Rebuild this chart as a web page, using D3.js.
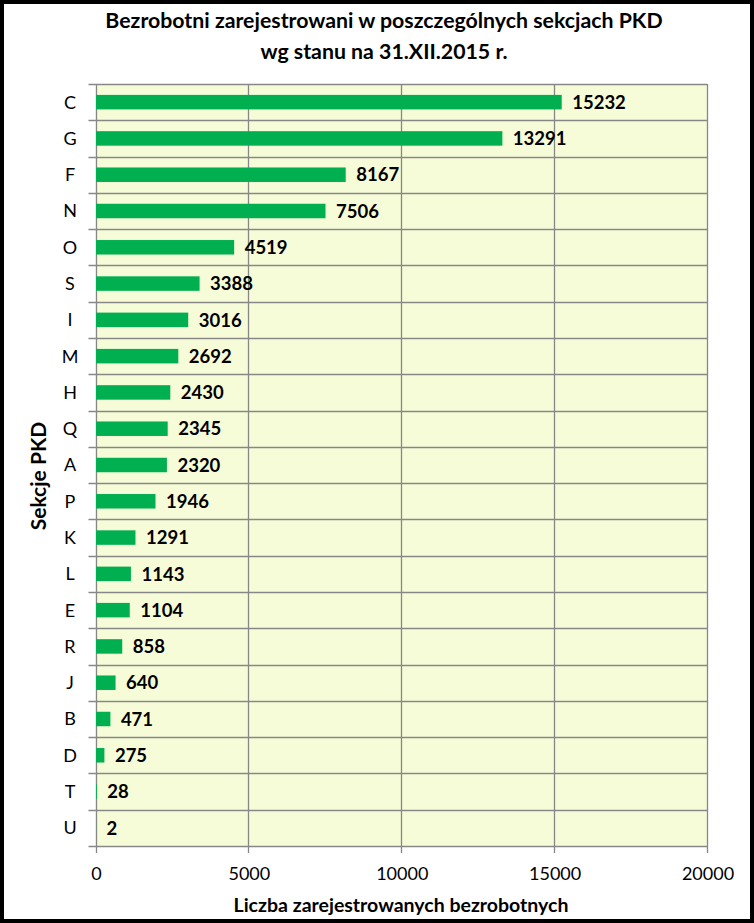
<!DOCTYPE html>
<html>
<head>
<meta charset="utf-8">
<script src="https://cdn.jsdelivr.net/npm/d3@7/dist/d3.min.js"></script>
<style>
  html, body { margin: 0; padding: 0; background: #fff; }
  svg { display: block; }
  text { font-family: Lato, "Open Sans", sans-serif; fill: #000; }
</style>
</head>
<body>
<svg id="chart" width="754" height="923"></svg>
<script>
const categories = ["C","G","F","N","O","S","I","M","H","Q","A","P","K","L","E","R","J","B","D","T","U"];
const values = [15232,13291,8167,7506,4519,3388,3016,2692,2430,2345,2320,1946,1291,1143,1104,858,640,471,275,28,2];
const xTicks = [0,5000,10000,15000,20000];
const titleLines = ["Bezrobotni zarejestrowani w poszczególnych sekcjach PKD", "wg stanu na 31.XII.2015 r."];
const xTitle = "Liczba zarejestrowanych bezrobotnych";
const yTitle = "Sekcje PKD";

const W = 754, H = 923;
const plot = {left: 95.5, right: 707, top: 84, bottom: 846};
const svg = d3.select("#chart");

// outer border
svg.append("rect").attr("x", 2).attr("y", 2).attr("width", W - 4).attr("height", H - 4)
  .attr("fill", "#fff").attr("stroke", "#000").attr("stroke-width", 4);

const x = d3.scaleLinear().domain([0, 20000]).range([plot.left, plot.right]);
const y = d3.scaleBand().domain(categories).range([plot.top, plot.bottom]).paddingInner(0).paddingOuter(0);

// plot background
svg.append("rect").attr("x", plot.left).attr("y", plot.top)
  .attr("width", plot.right - plot.left).attr("height", plot.bottom - plot.top)
  .attr("fill", "#F7FCD8");

const gridColor = "#878787";
// vertical gridlines
svg.append("g").selectAll("line").data(xTicks).join("line")
  .attr("x1", d => Math.round(x(d)) + 0.5).attr("x2", d => Math.round(x(d)) + 0.5)
  .attr("y1", plot.top).attr("y2", plot.bottom + 7)
  .attr("stroke", gridColor).attr("stroke-width", 1.3);

// horizontal separators between categories (with ticks extending left)
const bounds = categories.map(c => y(c)).concat([plot.bottom]);
svg.append("g").selectAll("line").data(bounds).join("line")
  .attr("x1", plot.left - 7)
  .attr("x2", plot.right)
  .attr("y1", d => Math.round(d) + 0.5).attr("y2", d => Math.round(d) + 0.5)
  .attr("stroke", gridColor).attr("stroke-width", 1.3);

// bars
const barH = 14.5;
svg.append("g").selectAll("rect").data(values).join("rect")
  .attr("x", x(0) + 0.5)
  .attr("y", (d, i) => y(categories[i]) + y.bandwidth() / 2 - barH / 2)
  .attr("width", d => Math.max(0, x(d) - x(0)))
  .attr("height", barH)
  .attr("fill", "#00B050");

// value labels
svg.append("g").selectAll("text").data(values).join("text")
  .attr("x", d => x(d) + 11)
  .attr("y", (d, i) => y(categories[i]) + y.bandwidth() / 2)
  .attr("dy", "0.36em")
  .attr("font-size", "18.5px").attr("font-weight", "bold")
  .text(d => d);

// category labels
svg.append("g").selectAll("text").data(categories).join("text")
  .attr("x", 70)
  .attr("y", c => y(c) + y.bandwidth() / 2)
  .attr("dy", "0.36em")
  .attr("text-anchor", "middle")
  .attr("font-size", "18px")
  .text(c => c);

// x tick labels
svg.append("g").selectAll("text").data(xTicks).join("text")
  .attr("x", d => x(d) + 1)
  .attr("y", 874)
  .attr("dy", "0.36em")
  .attr("text-anchor", "middle")
  .attr("font-size", "18px")
  .text(d => d);

// titles
svg.append("g").selectAll("text").data(titleLines).join("text")
  .attr("x", 384)
  .attr("y", (d, i) => 20 + i * 31)
  .attr("dy", "0.36em")
  .attr("text-anchor", "middle")
  .attr("font-size", "21.3px").attr("font-weight", "bold")
  .text(d => d);

svg.append("text")
  .attr("x", 401).attr("y", 905).attr("dy", "0.36em")
  .attr("text-anchor", "middle")
  .attr("font-size", "19.5px").attr("font-weight", "bold")
  .text(xTitle);

svg.append("text")
  .attr("transform", "translate(38,476) rotate(-90)")
  .attr("dy", "0.36em")
  .attr("text-anchor", "middle")
  .attr("font-size", "21px").attr("font-weight", "bold")
  .text(yTitle);
</script>
</body>
</html>
